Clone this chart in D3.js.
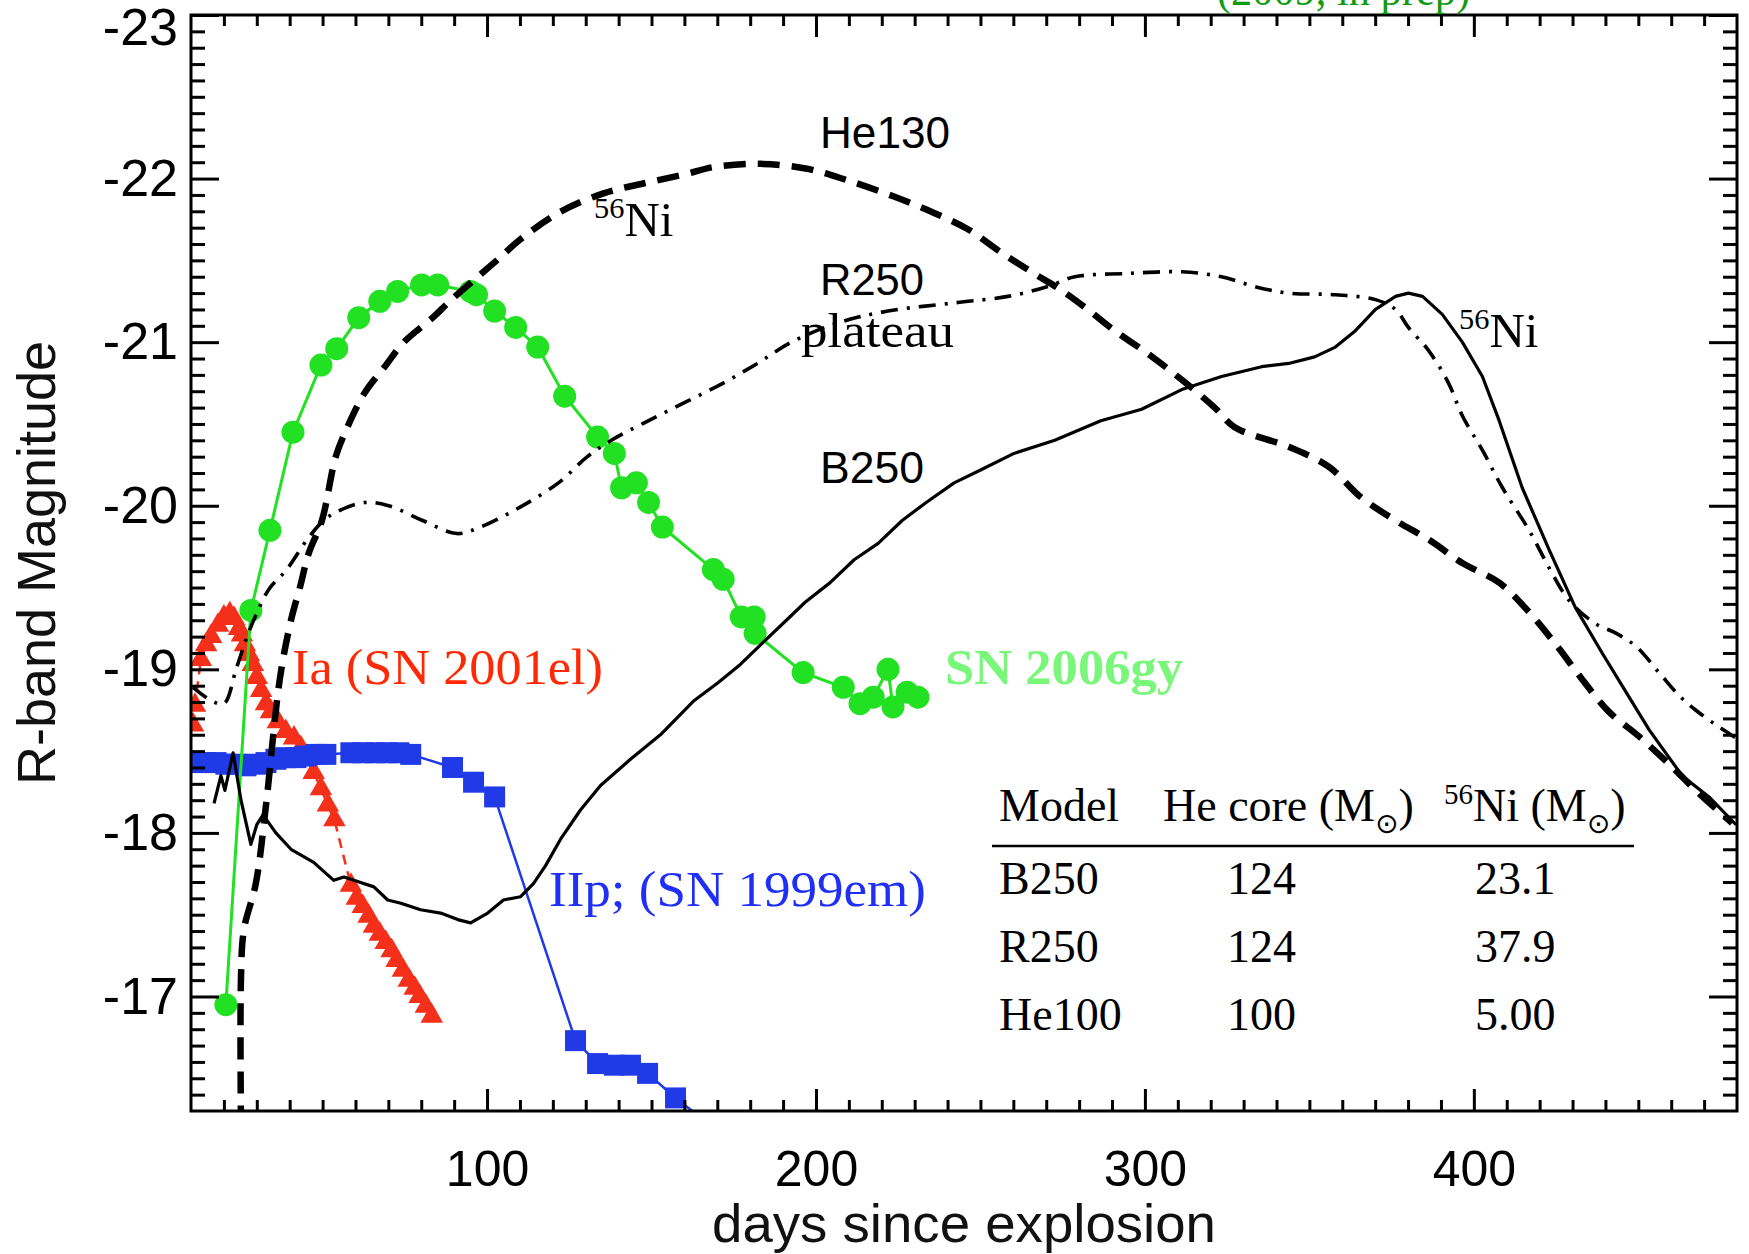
<!DOCTYPE html>
<html><head><meta charset="utf-8">
<script src="https://cdn.jsdelivr.net/npm/d3@7"></script>
<style>body{margin:0;background:#fff}svg{display:block}</style>
</head><body>
<svg id="c" width="1749" height="1254"></svg>
<script>
// ---------- data ----------
const xTicks = [100, 200, 300, 400];
const yTicks = [-23, -22, -21, -20, -19, -18, -17];

const he130Days = [25.2,25.2,26.1,29.7,32.8,37.0,40.4,43.1,45.8,49.8,54.0,57.1,62.8,68.9,74.7,83.5,89.2,104.1,109.6,121.7,135.4,147.5,160.9,168.8,183.1,197.3,209.5,223.7,235.9,246.2,256.2,266.3,274.4,282.6,290.8,300.9,311.2,321.2,327.3,343.7,355.8,365.8,376.2,386.5,396.5,407.7,416.8,425.0,432.9,441.1,450.2,459.4,468.5,478.5];
const he130Mag  = [-16.2,-17.12,-17.41,-17.69,-18.17,-18.94,-19.30,-19.50,-19.71,-19.91,-20.30,-20.46,-20.69,-20.85,-21.00,-21.15,-21.26,-21.52,-21.62,-21.79,-21.91,-21.97,-22.03,-22.07,-22.09,-22.06,-21.99,-21.89,-21.79,-21.69,-21.55,-21.42,-21.32,-21.20,-21.07,-20.93,-20.77,-20.60,-20.48,-20.36,-20.24,-20.05,-19.91,-19.79,-19.65,-19.53,-19.35,-19.15,-18.94,-18.74,-18.59,-18.42,-18.24,-18.06];

const r250Days = [10.6,16.1,20.0,23.7,26.7,29.7,33.7,39.1,45.2,49.8,54.0,62.8,70.1,80.4,90.8,98.0,109.9,121.7,130.5,137.8,148.1,160.0,171.8,182.2,192.5,207.0,221.9,242.0,258.4,270.5,278.7,294.8,311.2,323.3,333.4,343.7,357.9,370.1,376.2,380.1,386.2,392.3,396.5,402.6,408.7,416.8,422.9,429.0,436.9,443.3,449.3,456.3,462.4,467.5,473.6,479.7];
const r250Mag  = [-18.89,-18.81,-18.79,-19.00,-19.18,-19.33,-19.49,-19.61,-19.79,-19.90,-19.96,-20.02,-20.00,-19.91,-19.83,-19.87,-19.99,-20.14,-20.30,-20.40,-20.51,-20.63,-20.75,-20.87,-21.00,-21.12,-21.19,-21.24,-21.28,-21.34,-21.40,-21.42,-21.43,-21.40,-21.34,-21.30,-21.29,-21.26,-21.20,-21.09,-20.95,-20.75,-20.55,-20.34,-20.11,-19.85,-19.62,-19.42,-19.28,-19.22,-19.14,-18.98,-18.84,-18.75,-18.66,-18.58];

const b250Days = [17.0,19.1,20.3,22.8,25.2,28.2,30.0,31.9,35.8,40.4,47.3,53.4,56.5,59.5,65.6,69.8,73.8,79.8,85.9,91.1,95.0,100.2,105.0,110.2,114.1,117.8,122.3,128.4,134.5,143.6,152.7,163.0,170.3,177.0,183.7,191.0,196.7,204.3,211.6,218.9,226.2,233.5,242.0,250.2,260.2,272.6,286.6,299.0,311.2,323.3,335.5,343.7,351.6,357.9,364.0,370.1,376.2,380.1,384.4,390.4,396.5,402.6,407.7,414.7,422.9,430.8,439.0,447.2,453.3,463.3,471.5,479.7];
const b250Mag  = [-18.18,-18.35,-18.26,-18.49,-18.20,-17.93,-18.05,-18.11,-18.00,-17.90,-17.82,-17.71,-17.73,-17.71,-17.67,-17.59,-17.57,-17.53,-17.51,-17.47,-17.45,-17.51,-17.59,-17.61,-17.69,-17.80,-17.96,-18.14,-18.29,-18.45,-18.60,-18.81,-18.92,-19.03,-19.16,-19.30,-19.41,-19.53,-19.67,-19.77,-19.91,-20.02,-20.14,-20.22,-20.32,-20.40,-20.52,-20.59,-20.71,-20.79,-20.85,-20.87,-20.91,-20.97,-21.07,-21.20,-21.28,-21.30,-21.28,-21.17,-21.00,-20.79,-20.52,-20.11,-19.73,-19.38,-19.10,-18.83,-18.63,-18.35,-18.22,-18.05];

const sn2006gyDays = [20.6,28.2,34.0,41.0,49.5,54.3,61.0,67.4,72.8,80.1,85.0,95.0,96.8,102.3,108.7,115.4,123.6,133.6,138.7,140.9,145.4,149.1,153.3,168.8,171.8,177.3,181.2,181.5,196.1,208.3,213.4,217.4,221.9,223.4,227.7,231.0];
const sn2006gyMag  = [-16.95,-19.36,-19.85,-20.45,-20.86,-20.96,-21.15,-21.25,-21.31,-21.35,-21.35,-21.31,-21.29,-21.19,-21.09,-20.97,-20.67,-20.42,-20.32,-20.11,-20.14,-20.02,-19.87,-19.61,-19.55,-19.32,-19.32,-19.22,-18.98,-18.89,-18.79,-18.83,-19.00,-18.77,-18.86,-18.83];

const sn2001elDays = [10.6,11.2,13.0,14.6,16.1,18.2,20.0,21.8,23.1,24.6,25.5,26.4,27.6,28.8,30.0,31.3,32.8,34.3,36.4,38.8,41.3,43.4,45.2,47.3,49.5,51.6,53.6,58.6,60.4,62.2,64.0,65.6,67.4,69.2,71.0,72.5,74.4,76.2,78.0,79.5,81.4,83.2];
const sn2001elMag  = [-18.66,-18.78,-19.06,-19.15,-19.20,-19.27,-19.32,-19.34,-19.31,-19.25,-19.21,-19.15,-19.09,-19.03,-18.95,-18.87,-18.79,-18.74,-18.68,-18.62,-18.58,-18.52,-18.45,-18.37,-18.27,-18.17,-18.08,-17.68,-17.60,-17.55,-17.49,-17.43,-17.38,-17.33,-17.28,-17.22,-17.16,-17.10,-17.05,-17.00,-16.94,-16.88];

const sn1999emDays = [11.5,14.6,17.6,20.6,23.7,26.7,29.7,32.8,35.8,38.8,41.9,44.9,48.0,51.0,58.6,62.2,65.9,69.5,73.2,76.8,89.5,95.9,102.3,126.9,133.6,138.7,143.6,148.8,157.3,172.0];
const sn1999emMag  = [-18.43,-18.43,-18.43,-18.42,-18.42,-18.41,-18.42,-18.43,-18.45,-18.46,-18.46,-18.47,-18.48,-18.48,-18.49,-18.49,-18.49,-18.49,-18.49,-18.48,-18.40,-18.31,-18.22,-16.73,-16.59,-16.58,-16.58,-16.53,-16.38,-16.15];

const tableModels = ["B250", "R250", "He100"];
const tableHeCore = ["124", "124", "100"];
const tableNi56   = ["23.1", "37.9", "5.00"];

// ---------- layout ----------
const W = 1749, H = 1254;
const M = {left:191, right:1737, top:15, bottom:1111};
const SANS = "'Liberation Sans', Arial, Helvetica, sans-serif";
const SERIF = "'Liberation Serif', 'Times New Roman', serif";

const x = d3.scaleLinear().domain([10, 480]).range([M.left, M.right]);
const y = d3.scaleLinear().domain([-23, -16.3]).range([M.top, M.bottom]);

const svg = d3.select("#c");
svg.append("rect").attr("width", W).attr("height", H).attr("fill", "#fff");
svg.append("defs").append("clipPath").attr("id", "clip").append("rect")
  .attr("x", M.left).attr("y", M.top).attr("width", M.right - M.left).attr("height", M.bottom - M.top);
const plot = svg.append("g").attr("clip-path", "url(#clip)");

const zip = (a, b) => a.map((d, i) => [d, b[i]]);
const lin = d3.line().x(d => x(d[0])).y(d => y(d[1]));
const smooth = d3.line().x(d => x(d[0])).y(d => y(d[1])).curve(d3.curveCatmullRom.alpha(0.5));

const RED = "#f4301a", BLUE = "#1f3ae6", GREEN = "#22e022";

// Ia SN 2001el
plot.append("path").datum(zip(sn2001elDays, sn2001elMag)).attr("d", lin)
  .attr("fill", "none").attr("stroke", RED).attr("stroke-width", 2.5).attr("stroke-dasharray", "10,7");
plot.selectAll(".tri").data(zip(sn2001elDays, sn2001elMag)).join("path").attr("class", "tri")
  .attr("d", d3.symbol(d3.symbolTriangle, 220))
  .attr("transform", d => `translate(${x(d[0])},${y(d[1])})`).attr("fill", RED);

// IIp SN 1999em
plot.append("path").datum(zip(sn1999emDays, sn1999emMag)).attr("d", lin)
  .attr("fill", "none").attr("stroke", BLUE).attr("stroke-width", 2.5);
plot.selectAll(".sq").data(zip(sn1999emDays, sn1999emMag)).join("path").attr("class", "sq")
  .attr("d", d3.symbol(d3.symbolSquare, 440))
  .attr("transform", d => `translate(${x(d[0])},${y(d[1])})`).attr("fill", BLUE);

// SN 2006gy
plot.append("path").datum(zip(sn2006gyDays, sn2006gyMag)).attr("d", lin)
  .attr("fill", "none").attr("stroke", GREEN).attr("stroke-width", 3);
plot.selectAll(".dot").data(zip(sn2006gyDays, sn2006gyMag)).join("circle").attr("class", "dot")
  .attr("cx", d => x(d[0])).attr("cy", d => y(d[1])).attr("r", 11.5).attr("fill", GREEN);

// models
plot.append("path").datum(zip(b250Days, b250Mag)).attr("d", lin)
  .attr("fill", "none").attr("stroke", "#000").attr("stroke-width", 3.2).attr("stroke-linejoin", "round");
plot.append("path").datum(zip(r250Days, r250Mag)).attr("d", smooth)
  .attr("fill", "none").attr("stroke", "#000").attr("stroke-width", 3.6).attr("stroke-dasharray", "17,9,3,9");
plot.append("path").datum(zip(he130Days, he130Mag)).attr("d", smooth)
  .attr("fill", "none").attr("stroke", "#000").attr("stroke-width", 6.5).attr("stroke-dasharray", "22,12");

// ---------- axes ----------
const minorX = d3.range(20, 480, 10).filter(v => v % 100 !== 0);
const minorY = d3.range(-229, -163).map(v => v / 10).filter(v => Math.abs(v % 1) > 1e-6);
const plainInt = d => String(d);   // hyphen-minus, as in the reference

function styleAxis(g) {
  g.select(".domain").remove();
  g.selectAll(".tick line").attr("stroke", "#000").attr("stroke-width", 3);
  g.attr("font-family", SANS).attr("font-size", 50);
  g.selectAll(".tick text").attr("fill", "#000");
}
svg.append("g").attr("transform", `translate(0,${M.bottom})`)
  .call(d3.axisBottom(x).tickValues(minorX).tickSizeInner(-11).tickSizeOuter(0).tickFormat("")).call(styleAxis);
svg.append("g").attr("transform", `translate(0,${M.bottom})`)
  .call(d3.axisBottom(x).tickValues(xTicks).tickSizeInner(-22).tickSizeOuter(0).tickPadding(39).tickFormat(plainInt)).call(styleAxis);
svg.append("g").attr("transform", `translate(0,${M.top})`)
  .call(d3.axisTop(x).tickValues(minorX).tickSizeInner(-11).tickSizeOuter(0).tickFormat("")).call(styleAxis);
svg.append("g").attr("transform", `translate(0,${M.top})`)
  .call(d3.axisTop(x).tickValues(xTicks).tickSizeInner(-22).tickSizeOuter(0).tickFormat("")).call(styleAxis);
svg.append("g").attr("transform", `translate(${M.left},0)`)
  .call(d3.axisLeft(y).tickValues(minorY).tickSizeInner(-14).tickSizeOuter(0).tickFormat("")).call(styleAxis);
const gL = svg.append("g").attr("transform", `translate(${M.left},0)`)
  .call(d3.axisLeft(y).tickValues(yTicks).tickSizeInner(-28).tickSizeOuter(0).tickPadding(13).tickFormat(plainInt)).call(styleAxis);
gL.attr("font-size", 52);
gL.selectAll(".tick").filter(d => d === -23).select("text").attr("y", 13);
svg.append("g").attr("transform", `translate(${M.right},0)`)
  .call(d3.axisRight(y).tickValues(minorY).tickSizeInner(-14).tickSizeOuter(0).tickFormat("")).call(styleAxis);
svg.append("g").attr("transform", `translate(${M.right},0)`)
  .call(d3.axisRight(y).tickValues(yTicks).tickSizeInner(-28).tickSizeOuter(0).tickFormat("")).call(styleAxis);

svg.append("rect").attr("x", M.left).attr("y", M.top).attr("width", M.right - M.left).attr("height", M.bottom - M.top)
  .attr("fill", "none").attr("stroke", "#000").attr("stroke-width", 3);

// axis titles
svg.append("text").attr("x", 964).attr("y", 1242).attr("text-anchor", "middle")
  .attr("font-family", SANS).attr("font-size", 53).attr("fill", "#111")
  .attr("textLength", 504).attr("lengthAdjust", "spacingAndGlyphs").text("days since explosion");
svg.append("text").attr("transform", "translate(55,563) rotate(-90)").attr("text-anchor", "middle")
  .attr("font-family", SANS).attr("font-size", 53).attr("fill", "#111")
  .attr("textLength", 444).attr("lengthAdjust", "spacingAndGlyphs").text("R-band Magnitude");

// ---------- annotations ----------
function txt(x0, y0, s, fam, size, color, opts = {}) {
  const t = svg.append("text").attr("x", x0).attr("y", y0).attr("font-family", fam)
    .attr("font-size", size).attr("fill", color).text(s);
  if (opts.weight) t.attr("font-weight", opts.weight);
  if (opts.len) t.attr("textLength", opts.len).attr("lengthAdjust", "spacingAndGlyphs");
  return t;
}
function ni(x0, y0, size) {
  const t = svg.append("text").attr("x", x0).attr("y", y0).attr("font-family", SERIF).attr("font-size", size).attr("fill", "#000");
  t.append("tspan").attr("font-size", size * 0.62).attr("dy", -size * 0.36).text("56");
  t.append("tspan").attr("dy", size * 0.36).text("Ni");
  return t;
}
txt(1217, 5, "(2009, in prep)", SERIF, 44, "#129a12", {len: 253});
txt(820, 148, "He130", SANS, 45, "#000", {len: 130});
txt(820, 295, "R250", SANS, 45, "#000", {len: 104});
txt(801, 347, "plateau", SERIF, 48, "#000", {len: 153});
txt(820, 483, "B250", SANS, 45, "#000", {len: 104});
ni(594, 236, 49);
ni(1459, 347, 49);
txt(292, 684, "Ia (SN 2001el)", SERIF, 50, "#ff2a05", {len: 311});
txt(945, 684, "SN 2006gy", SERIF, 50, "#7af77a", {weight: "bold", len: 238});
txt(549, 906, "IIp; (SN 1999em)", SERIF, 50, "#1f2ff5", {len: 377});

// ---------- table ----------
const TS = 46;
const th = svg.append("g").attr("font-family", SERIF).attr("font-size", TS).attr("fill", "#000");
th.append("text").attr("x", 999).attr("y", 821).text("Model");
const h2 = th.append("text").attr("x", 1163).attr("y", 821);
h2.append("tspan").text("He core (M");
h2.append("tspan").attr("font-size", 28).attr("dy", 12).attr("font-family", "'DejaVu Sans', sans-serif").text("\u2299");
h2.append("tspan").attr("dy", -12).text(")");
const h3 = th.append("text").attr("x", 1444).attr("y", 821);
h3.append("tspan").attr("font-size", 29).attr("dy", -17).text("56");
h3.append("tspan").attr("dy", 17).text("Ni (M");
h3.append("tspan").attr("font-size", 28).attr("dy", 12).attr("font-family", "'DejaVu Sans', sans-serif").text("\u2299");
h3.append("tspan").attr("dy", -12).text(")");
svg.append("line").attr("x1", 992).attr("x2", 1634).attr("y1", 846).attr("y2", 846).attr("stroke", "#000").attr("stroke-width", 2.5);
const rowY = [894, 962, 1030];
tableModels.forEach((m, i) => {
  th.append("text").attr("x", 999).attr("y", rowY[i]).text(m);
  th.append("text").attr("x", 1227).attr("y", rowY[i]).text(tableHeCore[i]);
  th.append("text").attr("x", 1475).attr("y", rowY[i]).text(tableNi56[i]);
});
</script>
</body></html>
